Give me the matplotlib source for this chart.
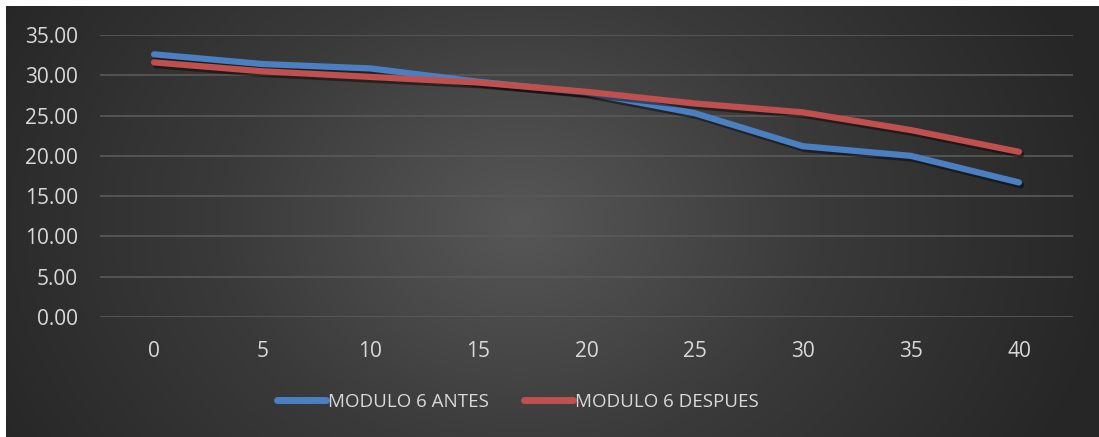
import numpy as np
import matplotlib.pyplot as plt
from matplotlib import patheffects as pe
from matplotlib.colors import LinearSegmentedColormap

# Data
minutes = ["0", "5", "10", "15", "20", "25", "30", "35", "40"]
antes = [32.6, 31.4, 30.85, 29.2, 27.85, 25.3, 21.2, 20.0, 16.7]
despues = [31.6, 30.5, 29.8, 29.1, 27.95, 26.5, 25.4, 23.2, 20.5]
y_ticks = [0, 5, 10, 15, 20, 25, 30, 35]
series_names = ["MODULO 6 ANTES", "MODULO 6 DESPUES"]
colors = ["#4a7fc1", "#c0504d"]

W, H = 1099, 437
fig = plt.figure(figsize=(W / 100, H / 100), dpi=100)
fig.patch.set_facecolor("white")

# Radial-gradient chart background
bg = fig.add_axes([6 / W, 0, 1 - 6 / W, 1 - 6 / H])
bg.set_axis_off()
ny, nx = 300, 700
yy, xx = np.mgrid[0:ny, 0:nx]
cx, cy = nx * 0.47, ny * 0.5
r = np.sqrt(((xx - cx) / (nx * 0.55)) ** 2 + ((yy - cy) / (ny * 1.1)) ** 2)
r = np.clip(r, 0, 1)
cmap = LinearSegmentedColormap.from_list("bgc", ["#575757", "#3a3a3a", "#262626"])
bg.imshow(r, cmap=cmap, aspect="auto", extent=[0, 1, 0, 1], vmin=0, vmax=1)
bg.set_xlim(0, 1)
bg.set_ylim(0, 1)

left, right = 100 / W, 1073 / W
bottom, top = (H - 317) / H, (H - 35) / H
ax = fig.add_axes([left, bottom, right - left, top - bottom])
ax.patch.set_alpha(0)

font = "Open Sans"
text_color = "#d9d9d9"
x = np.arange(len(minutes))

shadow = [pe.SimpleLineShadow(offset=(1.5, -2), shadow_color="black", alpha=0.45),
          pe.Normal()]
for vals, name, c in zip([antes, despues], series_names, colors):
    ax.plot(x, vals, color=c, lw=4.5, solid_capstyle="round", solid_joinstyle="round",
            label=name, path_effects=shadow, zorder=3)

ax.set_xlim(-0.5, len(minutes) - 0.5)
ax.set_ylim(0, 35)
ax.set_yticks(y_ticks)
ax.set_yticklabels([f"{v:.2f}" for v in y_ticks], fontfamily=font, fontsize=15, color=text_color)
ax.set_xticks(x)
ax.set_xticklabels(minutes, fontfamily=font, fontsize=15, color=text_color)
ax.tick_params(axis="both", length=0)
ax.tick_params(axis="y", pad=16)
ax.tick_params(axis="x", pad=17)
ax.grid(axis="y", color="#5a5a5a", lw=1.2)
for s in ax.spines.values():
    s.set_visible(False)

leg = fig.legend(loc="center", bbox_to_anchor=(518 / W, (H - 402) / H), ncol=2,
                 frameon=False, prop={"family": font, "size": 13.5},
                 handlelength=2.6, handletextpad=0.1, columnspacing=1.9)
for t in leg.get_texts():
    t.set_color(text_color)
for h in leg.legend_handles:
    h.set_path_effects([])
    h.set_linewidth(5)

fig.savefig("out.png", dpi=100, facecolor="white")
